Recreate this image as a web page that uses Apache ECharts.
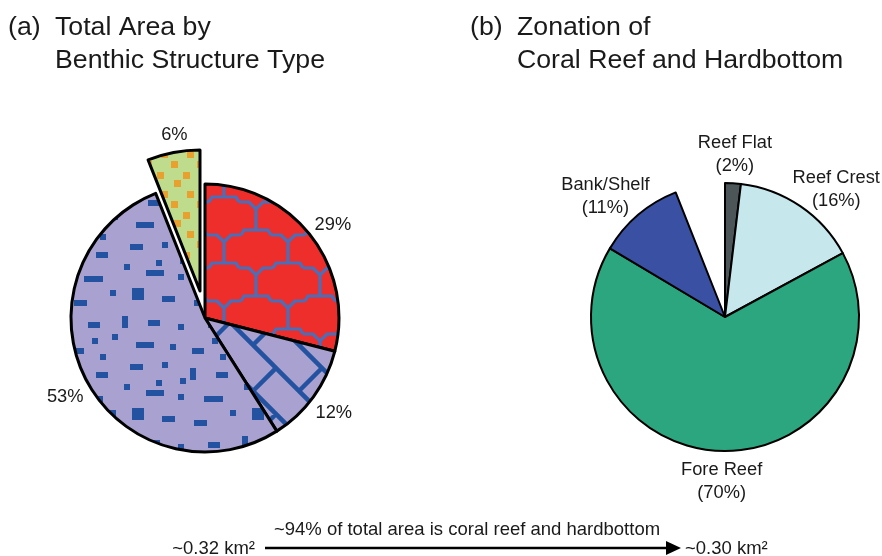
<!DOCTYPE html>
<html><head><meta charset="utf-8">
<script src="https://cdn.jsdelivr.net/npm/echarts@6/dist/echarts.min.js"></script>
<style>html,body{margin:0;padding:0;background:#fff}#c{width:882px;height:556px}</style>
</head><body><div id="c"></div>
<script>
// ---------- data ----------
const structureNames  = ['Coral Reef', 'Hardbottom', 'Reef Rubble/Pavement', 'Other'];
const structureValues = [29, 12, 53, 6];
const structureLabels = ['29%', '12%', '53%', '6%'];

const zoneNames  = ['Reef Flat', 'Reef Crest', 'Fore Reef', 'Bank/Shelf'];
const zoneValues = [2, 16, 70, 11];

const reefShareOfTotal  = 94;   // % of total area that is coral reef and hardbottom
const otherShareOfTotal = 6;    // remainder (not zoned)

const titleA = ['(a)', 'Total Area by\nBenthic Structure Type'];
const titleB = ['(b)', 'Zonation of\nCoral Reef and Hardbottom'];
const arrowText = '~94% of total area is coral reef and hardbottom';
const areaStart = '~0.32 km²';
const areaEnd   = '~0.30 km²';

// ---------- patterns (style only) ----------
function mk(w, h) { const c = document.createElement('canvas'); c.width = w; c.height = h; return c; }

function scalePattern() {
  const W = 64, H = 66, c = mk(W, H), g = c.getContext('2d');
  g.fillStyle = '#ee2e2b'; g.fillRect(0, 0, W, H);
  g.strokeStyle = '#4a6fb8'; g.lineWidth = 3.2; g.lineJoin = 'miter';
  const Y = (cx, cy) => {
    g.beginPath();
    g.moveTo(cx - 17, cy); g.lineTo(cx - 7, cy); g.lineTo(cx, cy + 7); g.lineTo(cx + 7, cy); g.lineTo(cx + 17, cy);
    g.moveTo(cx, cy + 7); g.lineTo(cx, cy + 28);
    g.moveTo(cx - 15, cy + 33); g.lineTo(cx - 12, cy + 28); g.lineTo(cx + 12, cy + 28); g.lineTo(cx + 15, cy + 33);
    g.stroke();
  };
  for (const dx of [-64, 0, 64]) for (const dy of [-66, 0, 66]) { Y(dx, dy + 4); Y(dx + 32, dy + 37); }
  return c;
}

function brickPattern() {
  const T = 92, c = mk(T, T), g = c.getContext('2d');
  g.fillStyle = '#a9a1cf'; g.fillRect(0, 0, T, T);
  const s = T / Math.SQRT2, d = s / 2;
  g.save(); g.rotate(Math.PI / 4);
  g.strokeStyle = '#2352a0'; g.lineWidth = 4.5;
  g.beginPath();
  for (let k = -6; k <= 6; k++) {
    g.moveTo(-300, k * d); g.lineTo(400, k * d);
    for (let m = -5; m <= 6; m++) {
      const u = m * s + ((k & 1) ? s / 2 : 0);
      g.moveTo(u, k * d); g.lineTo(u, (k + 1) * d);
    }
  }
  g.stroke(); g.restore();
  return c;
}

function dashPattern() {
  const W = 120, H = 120, c = mk(W, H), g = c.getContext('2d');
  g.fillStyle = '#a9a1cf'; g.fillRect(0, 0, W, H);
  g.fillStyle = '#2352a0';
  const r = [[10,4,13,6],[42,2,6,6],[70,8,6,12],[96,12,12,6],[4,24,6,6],[26,30,18,6],[58,34,6,6],[84,36,19,6],
             [110,50,6,6],[12,48,12,12],[42,56,13,6],[74,60,13,6],[2,76,6,12],[28,80,12,6],[58,84,6,6],[88,82,12,6],
             [112,94,6,6],[16,102,18,6],[50,104,6,6],[72,108,12,6],[100,114,6,6],[36,20,6,6],[92,98,6,6],[60,18,6,6]];
  r.forEach(a => g.fillRect(a[0], a[1], a[2], a[3]));
  return c;
}

function dotPattern() {
  const W = 26, H = 40, c = mk(W, H), g = c.getContext('2d');
  g.fillStyle = '#bedc8c'; g.fillRect(0, 0, W, H);
  g.fillStyle = '#e8a02e';
  [[15,1],[1,12],[18,20],[5,31]].forEach(p => g.fillRect(p[0], p[1], 7, 7));
  return c;
}

const pat = c => ({ image: c, repeat: 'repeat' });
const structureFills = [pat(scalePattern()), pat(brickPattern()), pat(dashPattern()), pat(dotPattern())];
const zoneColors = ['#4c5558', '#c6e8ed', '#2ba67f', '#3a50a2'];

// ---------- layout ----------
const FONT = '"Liberation Sans", Arial, sans-serif';
const leftCenter = [205, 318], leftR = 134;
const burstCenter = [200, 291], burstR = 141;
const rightCenter = [725, 317], rightR = 134;
const clear = { color: 'transparent', borderWidth: 0 };

const zoneSum = zoneValues.reduce((a, b) => a + b, 0);
const zoneArcs = zoneValues.map(v => v / zoneSum * reefShareOfTotal).concat([otherShareOfTotal]);

const burstIdx = structureValues.length - 1;

const mainPie = {
  type: 'pie', silent: true, center: leftCenter, radius: [0, leftR], startAngle: 90, clockwise: true,
  label: { show: false }, labelLine: { show: false },
  data: structureValues.map((v, i) => ({
    name: structureNames[i], value: v,
    itemStyle: i === burstIdx ? clear : { color: structureFills[i], borderColor: '#000', borderWidth: 3 }
  }))
};
const burstPie = {
  type: 'pie', silent: true, center: burstCenter, radius: [0, burstR], startAngle: 90, clockwise: true,
  label: { show: false }, labelLine: { show: false },
  data: structureValues.map((v, i) => ({
    name: structureNames[i], value: v,
    itemStyle: i === burstIdx ? { color: structureFills[i], borderColor: '#000', borderWidth: 3 } : clear
  }))
};
const rightPie = {
  type: 'pie', silent: true, center: rightCenter, radius: [0, rightR], startAngle: 90, clockwise: true,
  label: { show: false }, labelLine: { show: false },
  data: zoneArcs.map((v, i) => (i < zoneNames.length
      ? { name: zoneNames[i], value: v, itemStyle: { color: zoneColors[i], borderColor: '#000', borderWidth: 2 } }
      : { name: 'other', value: v, itemStyle: clear }))
};

// label anchor: slice bisector (from the same values) at a distance, plus a small nudge
function bisector(center, values, i, dist, nudge) {
  const total = values.reduce((a, b) => a + b, 0);
  let before = 0; for (let k = 0; k < i; k++) before += values[k];
  const mid = (90 - (before + values[i] / 2) / total * 360) * Math.PI / 180;
  return [center[0] + dist * Math.cos(mid) + nudge[0], center[1] - dist * Math.sin(mid) + nudge[1]];
}
const leftNudge  = [[3, 4], [1, 2], [1, 7], [-1, -28]];
const rightNudge = [[0, 3], [18, 10], [0, -2], [-12, 6]];

const txt = (pos, text, size, extra) => ({
  type: 'text', x: pos[0], y: pos[1], silent: true,
  style: Object.assign({ text, font: size + 'px ' + FONT, fill: '#1a1a1a', verticalAlign: 'middle', lineHeight: 33 }, extra || {})
});

const graphics = [
  txt([8, 27.5], titleA[0], 26.7),
  txt([55, 44], titleA[1], 26.7),
  txt([470, 27.5], titleB[0], 26.7),
  txt([517, 44], titleB[1], 26.7),
  txt([467, 530], arrowText, 18.5, { align: 'center' }),
  txt([255, 549], areaStart, 18.5, { align: 'right' }),
  txt([685, 549], areaEnd, 18.5, { align: 'left' }),
  { type: 'line', silent: true, shape: { x1: 265, y1: 548, x2: 668, y2: 548 }, style: { stroke: '#000', lineWidth: 2.5 } },
  { type: 'polygon', silent: true, shape: { points: [[666, 541], [681, 548], [666, 555]] }, style: { fill: '#000' } }
];
structureLabels.forEach((t, i) => graphics.push(
  txt(bisector(leftCenter, structureValues, i, 158, leftNudge[i]), t, 18.3, { align: 'center' })));
zoneNames.forEach((n, i) => graphics.push(
  txt(bisector(rightCenter, zoneArcs, i, 166, rightNudge[i]), n + '\n(' + zoneValues[i] + '%)', 18.3,
      { align: 'center', lineHeight: 23 })));

const chart = echarts.init(document.getElementById('c'), null, { renderer: 'canvas' });
chart.setOption({
  animation: false,
  backgroundColor: '#fff',
  series: [mainPie, burstPie, rightPie],
  graphic: graphics
});
</script>
</body></html>
